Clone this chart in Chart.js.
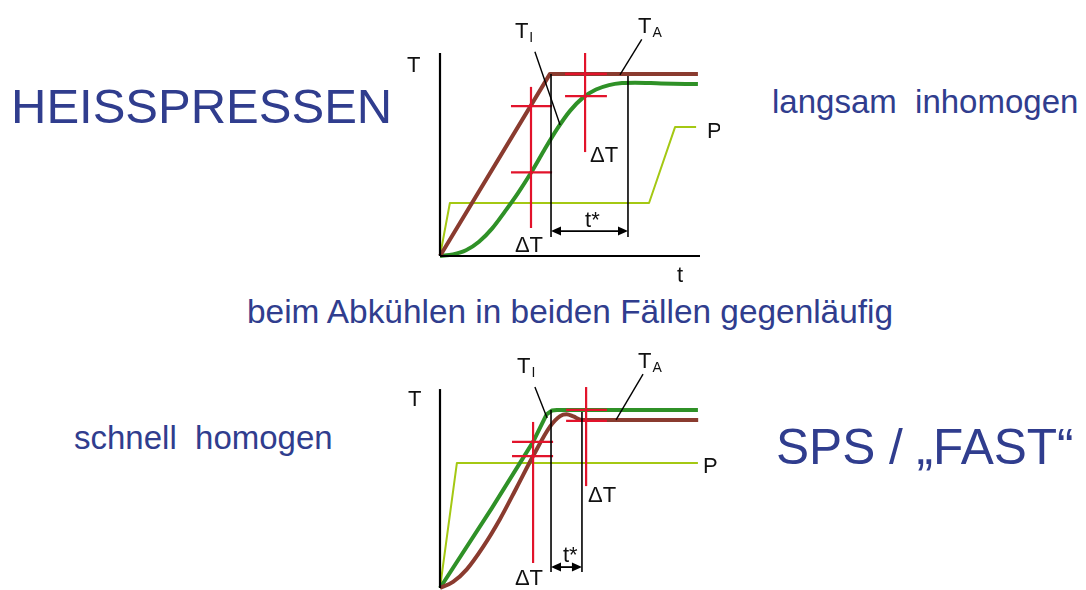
<!DOCTYPE html>
<html lang="de">
<head>
<meta charset="UTF-8">
<title>Heißpressen / SPS</title>
<script src="https://cdn.jsdelivr.net/npm/chart.js"></script>
<style>
    body {
        margin: 0;
        background: #fff;
        font-family: 'Liberation Sans', Arial, sans-serif;
    }
    .page {
        position: relative;
        width: 1086px;
        height: 590px;
        overflow: hidden;
    }
    .txt {
        position: absolute;
        color: #303d8e;
        white-space: pre;
        line-height: 1;
    }
    .big {
        font-size: 49px;
    }
    .mid {
        font-size: 33px;
    }
    canvas {
        position: absolute;
    }
</style>
</head>
<body>
<div class="page">
    <div class="txt big" style="left:11px; top:82px">HEISSPRESSEN</div>
    <div class="txt mid" style="left:772px; top:85px">langsam  inhomogen</div>
    <div class="txt mid" style="left:247px; top:295px; font-size:33.4px">beim Abkühlen in beiden Fällen gegenläufig</div>
    <div class="txt mid" style="left:74px; top:421px">schnell  homogen</div>
    <div class="txt big" style="left:776px; top:423px; font-size:49.6px">SPS / „FAST“</div>

    <canvas id="heissChart" width="320" height="295" style="left:400px; top:0px"></canvas>
    <canvas id="spsChart" width="320" height="250" style="left:400px; top:340px"></canvas>
</div>

<script>
// ---- Heißpressen (oben): Zeit t, Temperatur T, Druck P ----
const heissTA_t = [0, 4.23, 9.92];
const heissTA_T = [0, 8.97, 8.97];
const heissTI_t = [0, 0.5, 1, 1.5, 2, 2.5, 3, 3.5, 4, 4.5, 5, 5.5, 6, 6.5, 7, 7.5, 8.5, 9.92];
const heissTI_T = [0, 0.08, 0.28, 0.7, 1.35, 2.2, 3.1, 4.1, 5.2, 6.25, 7.15, 7.8, 8.2, 8.42, 8.52, 8.54, 8.5, 8.47];
const heissP_t = [0, 0.38, 8.04, 9.04, 9.85];
const heissP_P = [0, 2.61, 2.61, 6.35, 6.35];
// Messkreuze (ΔT) und t*-Grenzen
const heissCrosses = [
    { t: 3.5, from: 1.38, to: 8.33, levels: [7.38, 4.12], left: 2.73, right: 4.31 },
    { t: 5.58, from: 5.12, to: 10.0, levels: [8.97, 7.88], left: 4.81, right: 6.42 }
];
const heissTstar = [4.27, 7.23];
const heissTstarTop = [8.97, 8.87];

// ---- SPS / FAST (unten) ----
const spsTA_t = [0, 0.5, 1.03, 1.67, 2.31, 2.95, 3.58, 4.23, 4.62, 4.87, 5.13, 5.45, 9.93];
const spsTA_T = [0, 0.3, 0.92, 2.05, 3.4, 4.95, 6.5, 7.95, 8.47, 8.56, 8.45, 8.28, 8.28];
const spsTI_t = [0, 2, 3.58, 4.1, 4.3, 4.5, 9.92];
const spsTI_T = [0, 3.95, 7.2, 8.55, 8.74, 8.77, 8.77];
const spsP_t = [0, 0.65, 9.92];
const spsP_P = [0, 6.16, 6.16];
const spsCrosses = [
    { t: 3.58, from: 1.23, to: 8.18, levels: [7.2, 6.5], left: 2.77, right: 4.35 },
    { t: 5.62, from: 5.02, to: 9.9, levels: [8.77, 8.23], left: 4.85, right: 6.42 }
];
const spsTstar = [4.27, 5.46];
const spsTstarTop = [8.77, 8.67];

const BROWN = '#8a3b2f';
const GREEN = '#2f9127';
const LIME = '#a4c813';
const RED = '#e2132b';
const BLACK = '#000';

function line(ts, vs, color, width, order, extra) {
    return Object.assign({
        data: ts.map((t, i) => ({ x: t, y: vs[i] })),
        borderColor: color,
        borderWidth: width,
        pointRadius: 0,
        fill: false,
        tension: 0,
        order: order,
        borderJoinStyle: 'round'
    }, extra || {});
}

function crossSets(crosses) {
    const sets = [];
    crosses.forEach(c => {
        sets.push(line([c.t, c.t], [c.from, c.to], RED, 2.2, 1));
        c.levels.forEach(l => sets.push(line([c.left, c.right], [l, l], RED, 2.2, 1)));
    });
    return sets;
}

function tstarSets(ts, tops, bottom) {
    return ts.map((t, i) => line([t, t], [bottom, tops[i]], BLACK, 1.6, 0));
}

function annotations(labels, arrow) {
    return {
        id: 'annotations',
        afterDatasetsDraw(chart) {
            const { ctx, scales: { x, y } } = chart;
            ctx.save();
            // t* Doppelpfeil
            const x1 = x.getPixelForValue(arrow.from);
            const x2 = x.getPixelForValue(arrow.to);
            const yy = y.getPixelForValue(arrow.level);
            ctx.strokeStyle = BLACK;
            ctx.fillStyle = BLACK;
            ctx.lineWidth = 1.8;
            ctx.beginPath();
            ctx.moveTo(x1 + 6, yy);
            ctx.lineTo(x2 - 6, yy);
            ctx.stroke();
            [[x1, 1], [x2, -1]].forEach(([px, dir]) => {
                ctx.beginPath();
                ctx.moveTo(px, yy);
                ctx.lineTo(px + dir * 10, yy - 4.5);
                ctx.lineTo(px + dir * 10, yy + 4.5);
                ctx.closePath();
                ctx.fill();
            });
            // Beschriftungen
            ctx.fillStyle = '#111';
            ctx.textBaseline = 'alphabetic';
            labels.forEach(l => {
                const px = x.getPixelForValue(l.t);
                const py = y.getPixelForValue(l.v);
                ctx.font = "22px 'Liberation Sans', Arial, sans-serif";
                ctx.fillText(l.text, px, py);
                if (l.sub) {
                    const w = ctx.measureText(l.text).width;
                    ctx.font = "14px 'Liberation Sans', Arial, sans-serif";
                    ctx.fillText(l.sub, px + w + 1, py + 4);
                }
            });
            ctx.restore();
        }
    };
}

function makeChart(id, datasets, plugin, originX, originY, w, h) {
    const pxT = 26, pxV = 20.3;
    return new Chart(document.getElementById(id), {
        type: 'line',
        data: { datasets: datasets },
        options: {
            responsive: false,
            animation: false,
            events: [],
            layout: { padding: 0 },
            plugins: { legend: { display: false }, tooltip: { enabled: false } },
            scales: {
                x: { type: 'linear', display: false, min: -originX / pxT, max: (w - originX) / pxT },
                y: { type: 'linear', display: false, min: -(h - originY) / pxV, max: originY / pxV }
            }
        },
        plugins: [plugin]
    });
}

const heissLabels = [
    { text: 'T', t: -1.27, v: 9.06 },
    { text: 't', t: 9.12, v: -1.28 },
    { text: 'T', sub: 'I', t: 2.88, v: 10.74 },
    { text: 'T', sub: 'A', t: 7.62, v: 10.99 },
    { text: 'ΔT', t: 2.88, v: 0.2 },
    { text: 'ΔT', t: 5.77, v: 4.63 },
    { text: 't*', t: 5.58, v: 1.43 },
    { text: 'P', t: 10.27, v: 5.81 }
];
const spsLabels = [
    { text: 'T', t: -1.23, v: 8.97 },
    { text: 'T', sub: 'I', t: 2.96, v: 10.59 },
    { text: 'T', sub: 'A', t: 7.62, v: 10.84 },
    { text: 'ΔT', t: 2.88, v: 0.15 },
    { text: 'ΔT', t: 5.69, v: 4.24 },
    { text: 't*', t: 4.73, v: 1.28 },
    { text: 'P', t: 10.12, v: 5.67 }
];

makeChart('heissChart', [
    line([0, 0], [0, 10], BLACK, 2.2, 0),
    line([0, 10], [0, 0], BLACK, 2.2, 0),
    ...tstarSets(heissTstar, heissTstarTop, 0.94),
    line([3.65, 4.62], [10.06, 6.45], BLACK, 1.4, 0),
    line([7.76, 6.92], [10.67, 8.92], BLACK, 1.4, 0),
    ...crossSets(heissCrosses),
    line(heissTA_t, heissTA_T, BROWN, 4, 2),
    line(heissTI_t, heissTI_T, GREEN, 4, 3, { cubicInterpolationMode: 'monotone' }),
    line(heissP_t, heissP_P, LIME, 2, 4)
], annotations(heissLabels, { from: heissTstar[0], to: heissTstar[1], level: 1.23 }), 40, 256, 320, 295);

makeChart('spsChart', [
    line([0, 0], [0, 9.8], BLACK, 2.2, 0),
    ...tstarSets(spsTstar, spsTstarTop, 0.79),
    line([3.65, 4.12], [9.9, 8.37], BLACK, 1.4, 0),
    line([7.81, 6.77], [10.54, 8.28], BLACK, 1.4, 0),
    ...crossSets(spsCrosses),
    line(spsTA_t, spsTA_T, BROWN, 4, 2, { cubicInterpolationMode: 'monotone' }),
    line(spsTI_t, spsTI_T, GREEN, 4, 3),
    line(spsP_t, spsP_P, LIME, 2, 4)
], annotations(spsLabels, { from: spsTstar[0], to: spsTstar[1], level: 1.03 }), 40, 248, 320, 250);
</script>
</body>
</html>
